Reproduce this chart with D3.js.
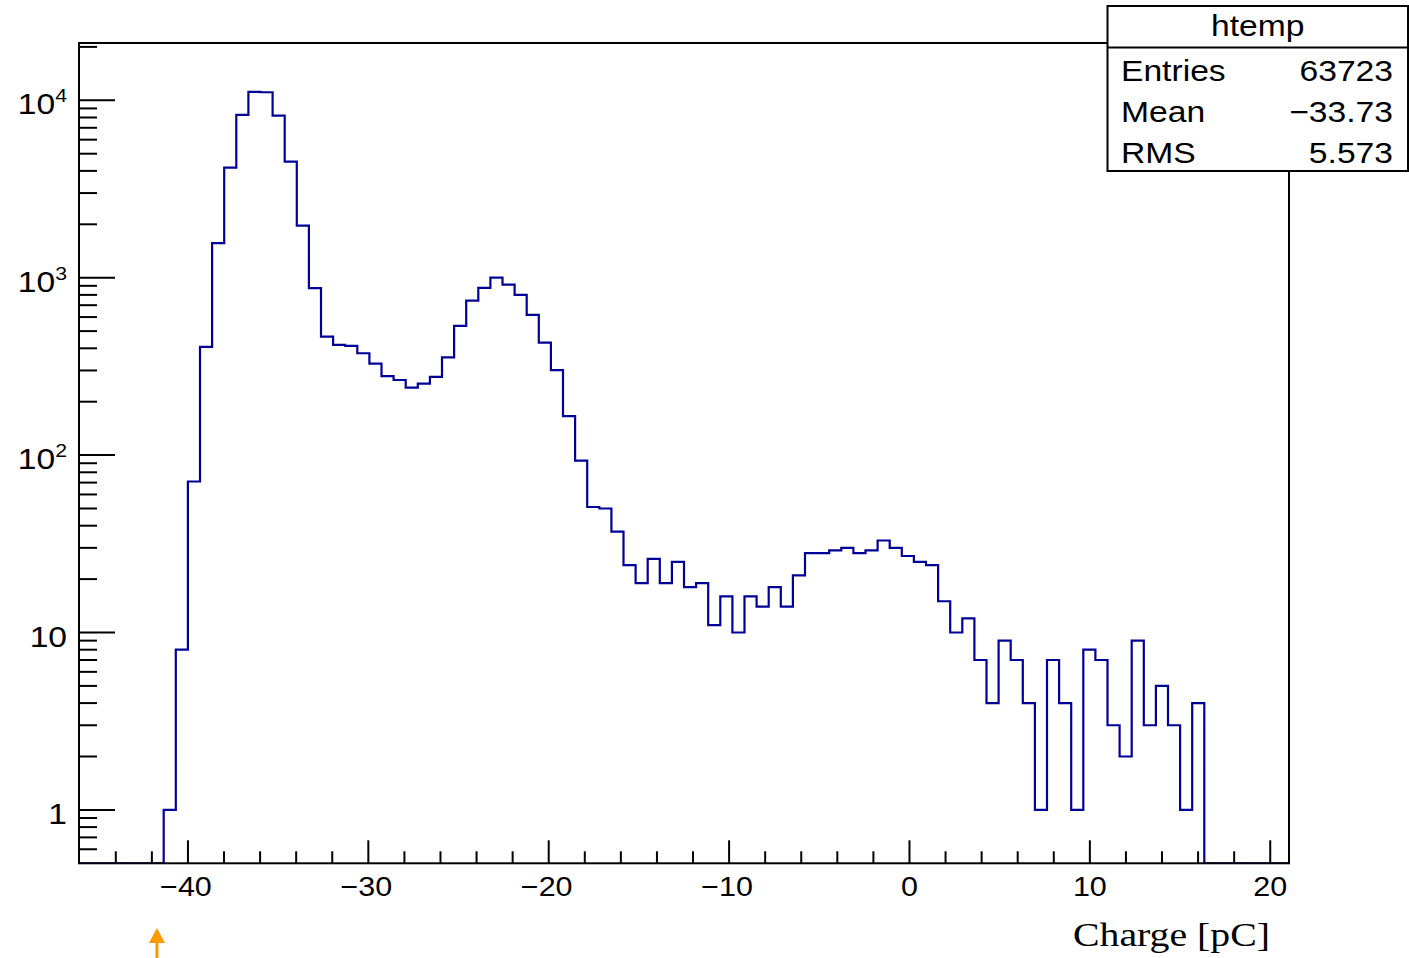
<!DOCTYPE html>
<html>
<head>
<meta charset="utf-8">
<script src="https://cdn.jsdelivr.net/npm/d3@7"></script>
<style>
  html, body { margin: 0; padding: 0; background: #fff; }
  svg { display: block; }
</style>
</head>
<body>
<svg id="chart" width="1409" height="958"></svg>
<script>
// Histogram binning (htemp: 100 equal bins)
const xMin = -46.04;
const xMax = 21.04;
const nBins = 100;

// Counts per bin, left to right
const binCounts = [
  0, 0, 0, 0, 0, 0, 0, 1, 8, 71,
  407, 1565, 4175, 8270, 11150, 11100, 8200, 4515, 1967, 873,
  466, 418, 413, 375, 328, 279, 265, 240, 253, 276,
  356, 535, 743, 877, 1002, 915, 800, 617, 431, 301,
  166, 93, 51, 50, 37, 24, 19, 26, 19, 25,
  18, 19, 11, 16, 10, 16, 14, 18, 14, 21,
  28, 28, 29, 30, 28, 29, 33, 30, 27, 25,
  24, 15, 10, 12, 7, 4, 9, 7, 4, 1,
  7, 4, 1, 8, 7, 3, 2, 9, 3, 5,
  3, 1, 4, 0, 0, 0, 0, 0, 0, 0
];

// Axis ranges and ticks
const yMin = 0.5;
const yMax = 21040;
const xMajorTicks = [-40, -30, -20, -10, 0, 10, 20];
const xMinorTicks = [-44, -42, -38, -36, -34, -32, -28, -26, -24, -22, -18, -16, -14, -12,
                     -8, -6, -4, -2, 2, 4, 6, 8, 12, 14, 16, 18];
const yMajorTicks = [1, 10, 100, 1000, 10000];
const yTickLabels = [["1", ""], ["10", ""], ["10", "2"], ["10", "3"], ["10", "4"]];
const yMinorTicks = [0.6, 0.7, 0.8, 0.9,
                     2, 3, 4, 5, 6, 7, 8, 9,
                     20, 30, 40, 50, 60, 70, 80, 90,
                     200, 300, 400, 500, 600, 700, 800, 900,
                     2000, 3000, 4000, 5000, 6000, 7000, 8000, 9000,
                     20000];

// Statistics box
const statsTitle = "htemp";
const statsNames = ["Entries", "Mean", "RMS"];
const statsValues = ["63723", "\u221233.73", "5.573"];

// Axis title and marker position
const xTitle = "Charge [pC]";
const markerCharge = -41.72;

const frame = { left: 79, right: 1289, top: 43, bottom: 863.3 };
const lineColor = "#000099";

const svg = d3.select("#chart");

const x = d3.scaleLinear().domain([xMin, xMax]).range([frame.left, frame.right]);
const y = d3.scaleLog().domain([yMin, yMax]).range([frame.bottom, frame.top]);

// Helper for horizontally widened text
function addText(g, tx, ty, size, anchor, stretch, family) {
  return g.append("text")
    .attr("transform", `translate(${tx},${ty}) scale(${stretch},1)`)
    .attr("font-family", family || "'Liberation Sans', Arial, Helvetica, sans-serif")
    .attr("font-size", size)
    .attr("text-anchor", anchor)
    .attr("fill", "#000");
}

// Clip for the histogram
svg.append("defs").append("clipPath").attr("id", "frameClip")
  .append("rect")
  .attr("x", frame.left).attr("y", frame.top)
  .attr("width", frame.right - frame.left)
  .attr("height", frame.bottom - frame.top);

// Histogram outline
const binWidth = (xMax - xMin) / nBins;
const pts = [];
pts.push([xMin, yMin]);
binCounts.forEach((c, i) => {
  const v = c > 0 ? c : yMin;
  pts.push([xMin + i * binWidth, v]);
  pts.push([xMin + (i + 1) * binWidth, v]);
});
pts.push([xMax, yMin]);

const line = d3.line().x(d => x(d[0])).y(d => y(Math.max(d[1], yMin)));

svg.append("path")
  .attr("clip-path", "url(#frameClip)")
  .attr("d", line(pts))
  .attr("fill", "none")
  .attr("stroke", lineColor)
  .attr("stroke-width", 2.2)
  .attr("stroke-linejoin", "miter");

// Frame
svg.append("rect")
  .attr("x", frame.left).attr("y", frame.top)
  .attr("width", frame.right - frame.left)
  .attr("height", frame.bottom - frame.top)
  .attr("fill", "none")
  .attr("stroke", "#000")
  .attr("stroke-width", 2);

// X axis ticks
const gx = svg.append("g");
gx.selectAll("line.major").data(xMajorTicks).enter().append("line")
  .attr("x1", d => x(d)).attr("x2", d => x(d))
  .attr("y1", frame.bottom).attr("y2", frame.bottom - 23)
  .attr("stroke", "#000").attr("stroke-width", 2);
gx.selectAll("line.minor").data(xMinorTicks).enter().append("line")
  .attr("x1", d => x(d)).attr("x2", d => x(d))
  .attr("y1", frame.bottom).attr("y2", frame.bottom - 12)
  .attr("stroke", "#000").attr("stroke-width", 2);
xMajorTicks.forEach(t => {
  const label = t < 0 ? "\u2212" + Math.abs(t) : String(t);
  addText(gx, x(t) - (t < 0 ? 2 : 0), 896, 27, "middle", 1.13).text(label);
});

// Y axis ticks
const gy = svg.append("g");
gy.selectAll("line.major").data(yMajorTicks).enter().append("line")
  .attr("x1", frame.left).attr("x2", frame.left + 36)
  .attr("y1", d => y(d)).attr("y2", d => y(d))
  .attr("stroke", "#000").attr("stroke-width", 2);
gy.selectAll("line.minor").data(yMinorTicks).enter().append("line")
  .attr("x1", frame.left).attr("x2", frame.left + 18)
  .attr("y1", d => y(d)).attr("y2", d => y(d))
  .attr("stroke", "#000").attr("stroke-width", 2);
yMajorTicks.forEach((t, i) => {
  const [base, exp] = yTickLabels[i];
  const ty = y(t);
  const txt = addText(gy, 67, ty + 14, 30, "end", 1.12);
  txt.append("tspan").text(base);
  if (exp) {
    txt.append("tspan").attr("font-size", 19).attr("dy", -12).text(exp);
  }
});

// X axis title
addText(svg, 1270, 946, 34, "end", 1.17, "'Liberation Serif', 'Times New Roman', serif").text(xTitle);

// Statistics box
const box = { left: 1107.5, top: 6, right: 1408, bottom: 171 };
const gs = svg.append("g");
gs.append("rect")
  .attr("x", box.left).attr("y", box.top)
  .attr("width", box.right - box.left).attr("height", box.bottom - box.top)
  .attr("fill", "#fff").attr("stroke", "#000").attr("stroke-width", 2);
gs.append("line")
  .attr("x1", box.left).attr("x2", box.right)
  .attr("y1", 47.5).attr("y2", 47.5)
  .attr("stroke", "#000").attr("stroke-width", 2);
addText(gs, (box.left + box.right) / 2, 35.5, 29.5, "middle", 1.14).text(statsTitle);
statsNames.forEach((n, i) => {
  const by = 80.5 + i * 41;
  addText(gs, 1121, by, 29.5, "start", 1.14).text(n);
  addText(gs, 1393, by, 29.5, "end", 1.14).text(statsValues[i]);
});

// Orange marker arrow below the axis
const mx = x(markerCharge);
svg.append("path")
  .attr("d", `M${mx - 8},943 L${mx + 8},943 L${mx},928 Z`)
  .attr("fill", "#ff9900");
svg.append("rect")
  .attr("x", mx - 1.5).attr("y", 942).attr("width", 3).attr("height", 16)
  .attr("fill", "#ff9900");
</script>
</body>
</html>
